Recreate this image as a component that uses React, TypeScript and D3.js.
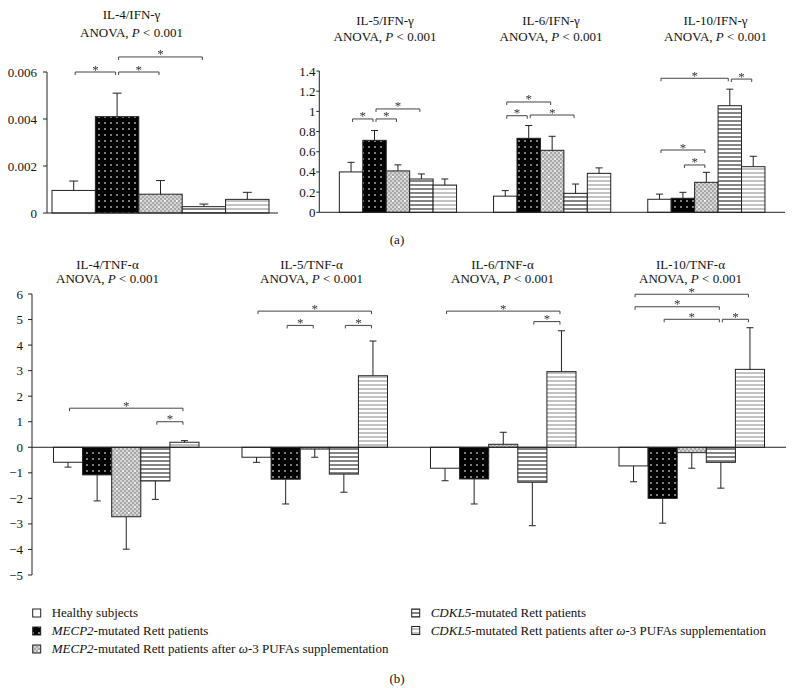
import React from "react";
import * as d3 from "d3";

const FONT = "'Liberation Serif', 'Times New Roman', Times, serif";

// ---------- DATA ----------
const seriesIdx = [0, 1, 2, 3, 4];

// Panel (a): ratios to IFN-gamma
const topLeftGroup = ["IL-4"];
const il4IfnMean = [0.00096, 0.0041, 0.0008, 0.00027, 0.00058];
const il4IfnSE = [0.0004, 0.001, 0.00058, 0.00011, 0.0003];

const topRightGroups = ["IL-5", "IL-6", "IL-10"];
const il5IfnMean = [0.4, 0.713, 0.41, 0.33, 0.27];
const il5IfnSE = [0.095, 0.097, 0.06, 0.05, 0.06];
const il6IfnMean = [0.16, 0.733, 0.614, 0.188, 0.386];
const il6IfnSE = [0.055, 0.127, 0.139, 0.092, 0.054];
const il10IfnMean = [0.129, 0.139, 0.297, 1.056, 0.452];
const il10IfnSE = [0.051, 0.059, 0.099, 0.164, 0.103];

// Panel (b): ratios to TNF-alpha
const bottomGroups = ["IL-4", "IL-5", "IL-6", "IL-10"];
const il4TnfMean = [-0.587, -1.08, -2.72, -1.32, 0.196];
const il4TnfSE = [0.19, 1.02, 1.27, 0.72, 0.064];
const il5TnfMean = [-0.39, -1.25, -0.07, -1.05, 2.8];
const il5TnfSE = [0.2, 0.97, 0.32, 0.71, 1.36];
const il6TnfMean = [-0.82, -1.24, 0.117, -1.37, 2.96];
const il6TnfSE = [0.49, 0.98, 0.47, 1.7, 1.6];
const il10TnfMean = [-0.73, -2.0, -0.21, -0.59, 3.05];
const il10TnfSE = [0.62, 0.97, 0.61, 1.01, 1.63];

// significance brackets: [fromBar, toBar, yValue]
const il4IfnSig = [[0, 1, 0.006], [1, 2, 0.006], [1, 3, 0.00664]];
const il5IfnSig = [[0, 1, 0.925], [1, 2, 0.925], [1, 3, 1.024]];
const il6IfnSig = [[0, 2, 1.093], [0, 1, 0.957], [1, 3, 0.964]];
const il10IfnSig = [[0, 3, 1.328], [3, 4, 1.32], [0, 2, 0.617], [1, 2, 0.469]];
const il4TnfSig = [[0, 4, 1.53], [3, 4, 1.0]];
const il5TnfSig = [[0, 4, 5.33], [1, 2, 4.77], [3, 4, 4.77]];
const il6TnfSig = [[0, 4, 5.33], [3, 4, 4.92]];
const il10TnfSig = [[0, 4, 5.99], [0, 3, 5.5], [1, 3, 5.01], [3, 4, 5.01]];

// tick values and labels
const ticksA1 = [0, 0.002, 0.004, 0.006];
const tickLabelsA1 = ["0", "0.002", "0.004", "0.006"];
const ticksA2 = [0, 0.2, 0.4, 0.6, 0.8, 1, 1.2, 1.4];
const tickLabelsA2 = ["0", "0.2", "0.4", "0.6", "0.8", "1", "1.2", "1.4"];
const ticksB = [-5, -4, -3, -2, -1, 0, 1, 2, 3, 4, 5, 6];
const tickLabelsB = ["\u22125", "\u22124", "\u22123", "\u22122", "\u22121", "0", "1", "2", "3", "4", "5", "6"];

const ifnLabel = "IFN-\u03b3";
const tnfLabel = "TNF-\u03b1";

const legendLabels: [string, boolean][][] = [
  [["Healthy subjects", false]],
  [["MECP2", true], ["-mutated Rett patients", false]],
  [["MECP2", true], ["-mutated Rett patients after ", false], ["\u03c9", true], ["-3 PUFAs supplementation", false]],
  [["CDKL5", true], ["-mutated Rett patients", false]],
  [["CDKL5", true], ["-mutated Rett patients after ", false], ["\u03c9", true], ["-3 PUFAs supplementation", false]],
];

// ---------- STYLE ----------
const fills = ["#ffffff", "url(#pMecp2)", "url(#pMecp2P)", "url(#pCdkl5)", "url(#pCdkl5P)"];
const INK = "#222";

type Sig = number[][];

function Group({ x0, bw, y, means, se, sig, cap }: { x0: number; bw: number; y: d3.ScaleLinear<number, number>; means: number[]; se: number[]; sig: Sig; cap: number }) {
  const inner = d3.scaleBand<number>().domain(seriesIdx).range([x0, x0 + bw]).padding(0);
  const w = inner.bandwidth();
  const cx = (i: number) => (inner(i) as number) + w / 2;
  const y0 = y(0);
  return (
    <g>
      {means.map((v, i) => {
        const yv = y(v);
        return (
          <rect key={"b" + i} x={inner(i)} y={Math.min(yv, y0)} width={w} height={Math.abs(y0 - yv)} fill={fills[i]} stroke={INK} strokeWidth={1} />
        );
      })}
      {means.map((v, i) => {
        const s = v >= 0 ? 1 : -1;
        const ye = y(v + s * se[i]);
        return (
          <g key={"e" + i} stroke={INK} strokeWidth={1}>
            <line x1={cx(i)} x2={cx(i)} y1={y(v)} y2={ye} />
            <line x1={cx(i) - cap} x2={cx(i) + cap} y1={ye} y2={ye} />
          </g>
        );
      })}
      {sig.map(([a, b, v], k) => {
        const xa = cx(a) + 1.5;
        const xb = cx(b) - 1.5;
        const yy = y(v);
        return (
          <g key={"s" + k}>
            <path d={`M${xa},${yy + 3}V${yy}H${xb}V${yy + 3}`} fill="none" stroke="#444" strokeWidth={1} />
            <text x={(xa + xb) / 2} y={yy + 1.5} textAnchor="middle" fontSize={13} fontFamily={FONT} fill="#333" filter="url(#gray)">*</text>
          </g>
        );
      })}
    </g>
  );
}

function YAxis({ x, y, ticks, labels, labelX, tick }: { x: number; y: d3.ScaleLinear<number, number>; ticks: number[]; labels: string[]; labelX: number; tick: number }) {
  const [d0, d1] = y.domain();
  return (
    <g>
      <line x1={x} x2={x} y1={y(d0)} y2={y(d1)} stroke={INK} strokeWidth={1} />
      {ticks.map((t, i) => (
        <g key={i}>
          <line x1={x - tick} x2={x} y1={y(t)} y2={y(t)} stroke={INK} strokeWidth={1} />
          <text x={labelX} y={y(t) + 4.5} textAnchor="end" fontSize={13} fontFamily={FONT} fill="#111">{labels[i]}</text>
        </g>
      ))}
    </g>
  );
}

function Title({ x, y1, y2, name, denom }: { x: number; y1: number; y2: number; name: string; denom: string }) {
  return (
    <g fontFamily={FONT} fontSize={13} fill="#111" textAnchor="middle">
      <text x={x} y={y1}>
        {name + "/" + denom}
      </text>
      <text x={x} y={y2}>
        {"ANOVA, "}<tspan fontStyle="italic">P</tspan>{" < 0.001"}
      </text>
    </g>
  );
}

export default function App() {
  // Panel (a) left
  const yA1 = d3.scaleLinear().domain([0, 0.006]).range([213, 72]);
  const xA1 = d3.scaleBand<string>().domain(topLeftGroup).range([52, 269]).padding(0);
  // Panel (a) right
  const yA2 = d3.scaleLinear().domain([0, 1.4]).range([212.3, 71]);
  const xA2 = d3.scaleBand<string>().domain(topRightGroups).range([319.3, 785]).paddingInner(0.24).paddingOuter(0.13);
  // Panel (b)
  const yB = d3.scaleLinear().domain([-5, 6]).range([575, 294]);
  const xB = d3.scaleBand<string>().domain(bottomGroups).range([32, 786]).paddingInner(0.228).paddingOuter(0.114);

  const topRightData = [
    [il5IfnMean, il5IfnSE, il5IfnSig],
    [il6IfnMean, il6IfnSE, il6IfnSig],
    [il10IfnMean, il10IfnSE, il10IfnSig],
  ] as [number[], number[], Sig][];
  const bottomData = [
    [il4TnfMean, il4TnfSE, il4TnfSig],
    [il5TnfMean, il5TnfSE, il5TnfSig],
    [il6TnfMean, il6TnfSE, il6TnfSig],
    [il10TnfMean, il10TnfSE, il10TnfSig],
  ] as [number[], number[], Sig][];

  const topRightTitleX = [385, 551, 715.5];
  const bottomTitleX = [107.5, 311.5, 502.5, 690.5];

  // checker pattern cells for MECP2 + PUFA
  const cells: [number, number][] = [];
  d3.range(6).forEach((r) => d3.range(6).forEach((c) => { if ((r + c) % 2 === 0) cells.push([c * 2, r * 2]); }));

  const legendPos = [
    [32.7, 617], [32.7, 635], [32.7, 653], [411.7, 617], [411.7, 634.5],
  ];

  return (
    <svg width={794} height={688} style={{ position: "absolute", left: 0, top: 0, background: "#fff" }}>
      <defs>
        <filter id="gray" x="-50%" y="-50%" width="200%" height="200%">
          <feOffset dx={0} dy={0} />
        </filter>
        <pattern id="pMecp2" width={6} height={6} patternUnits="userSpaceOnUse">
          <rect width={6} height={6} fill="#000" />
          <rect x={2.3} y={2.3} width={1.4} height={1.4} fill="#fff" />
        </pattern>
        <pattern id="pMecp2P" width={12} height={12} patternUnits="userSpaceOnUse">
          <rect width={12} height={12} fill="#a9a9a9" />
          {cells.map(([cx, cy], i) => (
            <rect key={i} x={cx} y={cy} width={2} height={2} fill="#d4d4d4" />
          ))}
          <rect x={2} y={2} width={1.6} height={1.6} fill="#fff" />
          <rect x={8} y={8} width={1.6} height={1.6} fill="#fff" />
        </pattern>
        <pattern id="pCdkl5" width={4} height={4} patternUnits="userSpaceOnUse">
          <rect width={4} height={4} fill="#fff" />
          <rect y={0} width={4} height={2} fill="#858585" />
        </pattern>
        <pattern id="pCdkl5P" width={4} height={4} patternUnits="userSpaceOnUse">
          <rect width={4} height={4} fill="#fff" />
          <rect y={0} width={4} height={2} fill="#c2c2c2" />
        </pattern>
      </defs>
      <rect width={794} height={688} fill="#fff" />

      {/* Panel (a) left */}
      <Title x={131.5} y1={18.5} y2={36.5} name="IL-4" denom={ifnLabel} />
      <Group x0={xA1("IL-4") as number} bw={xA1.bandwidth()} y={yA1} means={il4IfnMean} se={il4IfnSE} sig={il4IfnSig} cap={4.5} />
      <line x1={47} x2={278} y1={yA1(0)} y2={yA1(0)} stroke={INK} strokeWidth={1} />
      <YAxis x={47} y={yA1} ticks={ticksA1} labels={tickLabelsA1} labelX={37} tick={4} />

      {/* Panel (a) right */}
      {topRightGroups.map((g, i) => (
        <g key={g}>
          <Title x={topRightTitleX[i]} y1={25} y2={40.5} name={g} denom={ifnLabel} />
          <Group x0={xA2(g) as number} bw={xA2.bandwidth()} y={yA2} means={topRightData[i][0]} se={topRightData[i][1]} sig={topRightData[i][2]} cap={3.5} />
        </g>
      ))}
      <line x1={319.3} x2={785} y1={yA2(0)} y2={yA2(0)} stroke={INK} strokeWidth={1} />
      <YAxis x={319.3} y={yA2} ticks={ticksA2} labels={tickLabelsA2} labelX={315.5} tick={3} />

      <text x={397} y={243.5} textAnchor="middle" fontSize={13} fontFamily={FONT} fill="#111">(a)</text>

      {/* Panel (b) */}
      {bottomGroups.map((g, i) => (
        <g key={g}>
          <Title x={bottomTitleX[i]} y1={268.5} y2={283} name={g} denom={tnfLabel} />
          <Group x0={xB(g) as number} bw={xB.bandwidth()} y={yB} means={bottomData[i][0]} se={bottomData[i][1]} sig={bottomData[i][2]} cap={3.5} />
        </g>
      ))}
      <line x1={32} x2={786} y1={yB(0)} y2={yB(0)} stroke={INK} strokeWidth={1} />
      <YAxis x={32} y={yB} ticks={ticksB} labels={tickLabelsB} labelX={23} tick={4} />

      {/* Legend */}
      {legendLabels.map((parts, i) => {
        const [lx, ly] = legendPos[i];
        return (
          <g key={i}>
            <rect x={lx} y={ly - 8} width={8} height={8} fill={fills[i]} stroke={INK} strokeWidth={1} />
            <text x={lx + 19} y={ly} fontSize={13} fontFamily={FONT} fill="#111">
              {parts.map(([t, it], k) => (
                <tspan key={k} fontStyle={it ? "italic" : "normal"}>{t}</tspan>
              ))}
            </text>
          </g>
        );
      })}

      <text x={397} y={682.5} textAnchor="middle" fontSize={13} fontFamily={FONT} fill="#111">(b)</text>
    </svg>
  );
}
